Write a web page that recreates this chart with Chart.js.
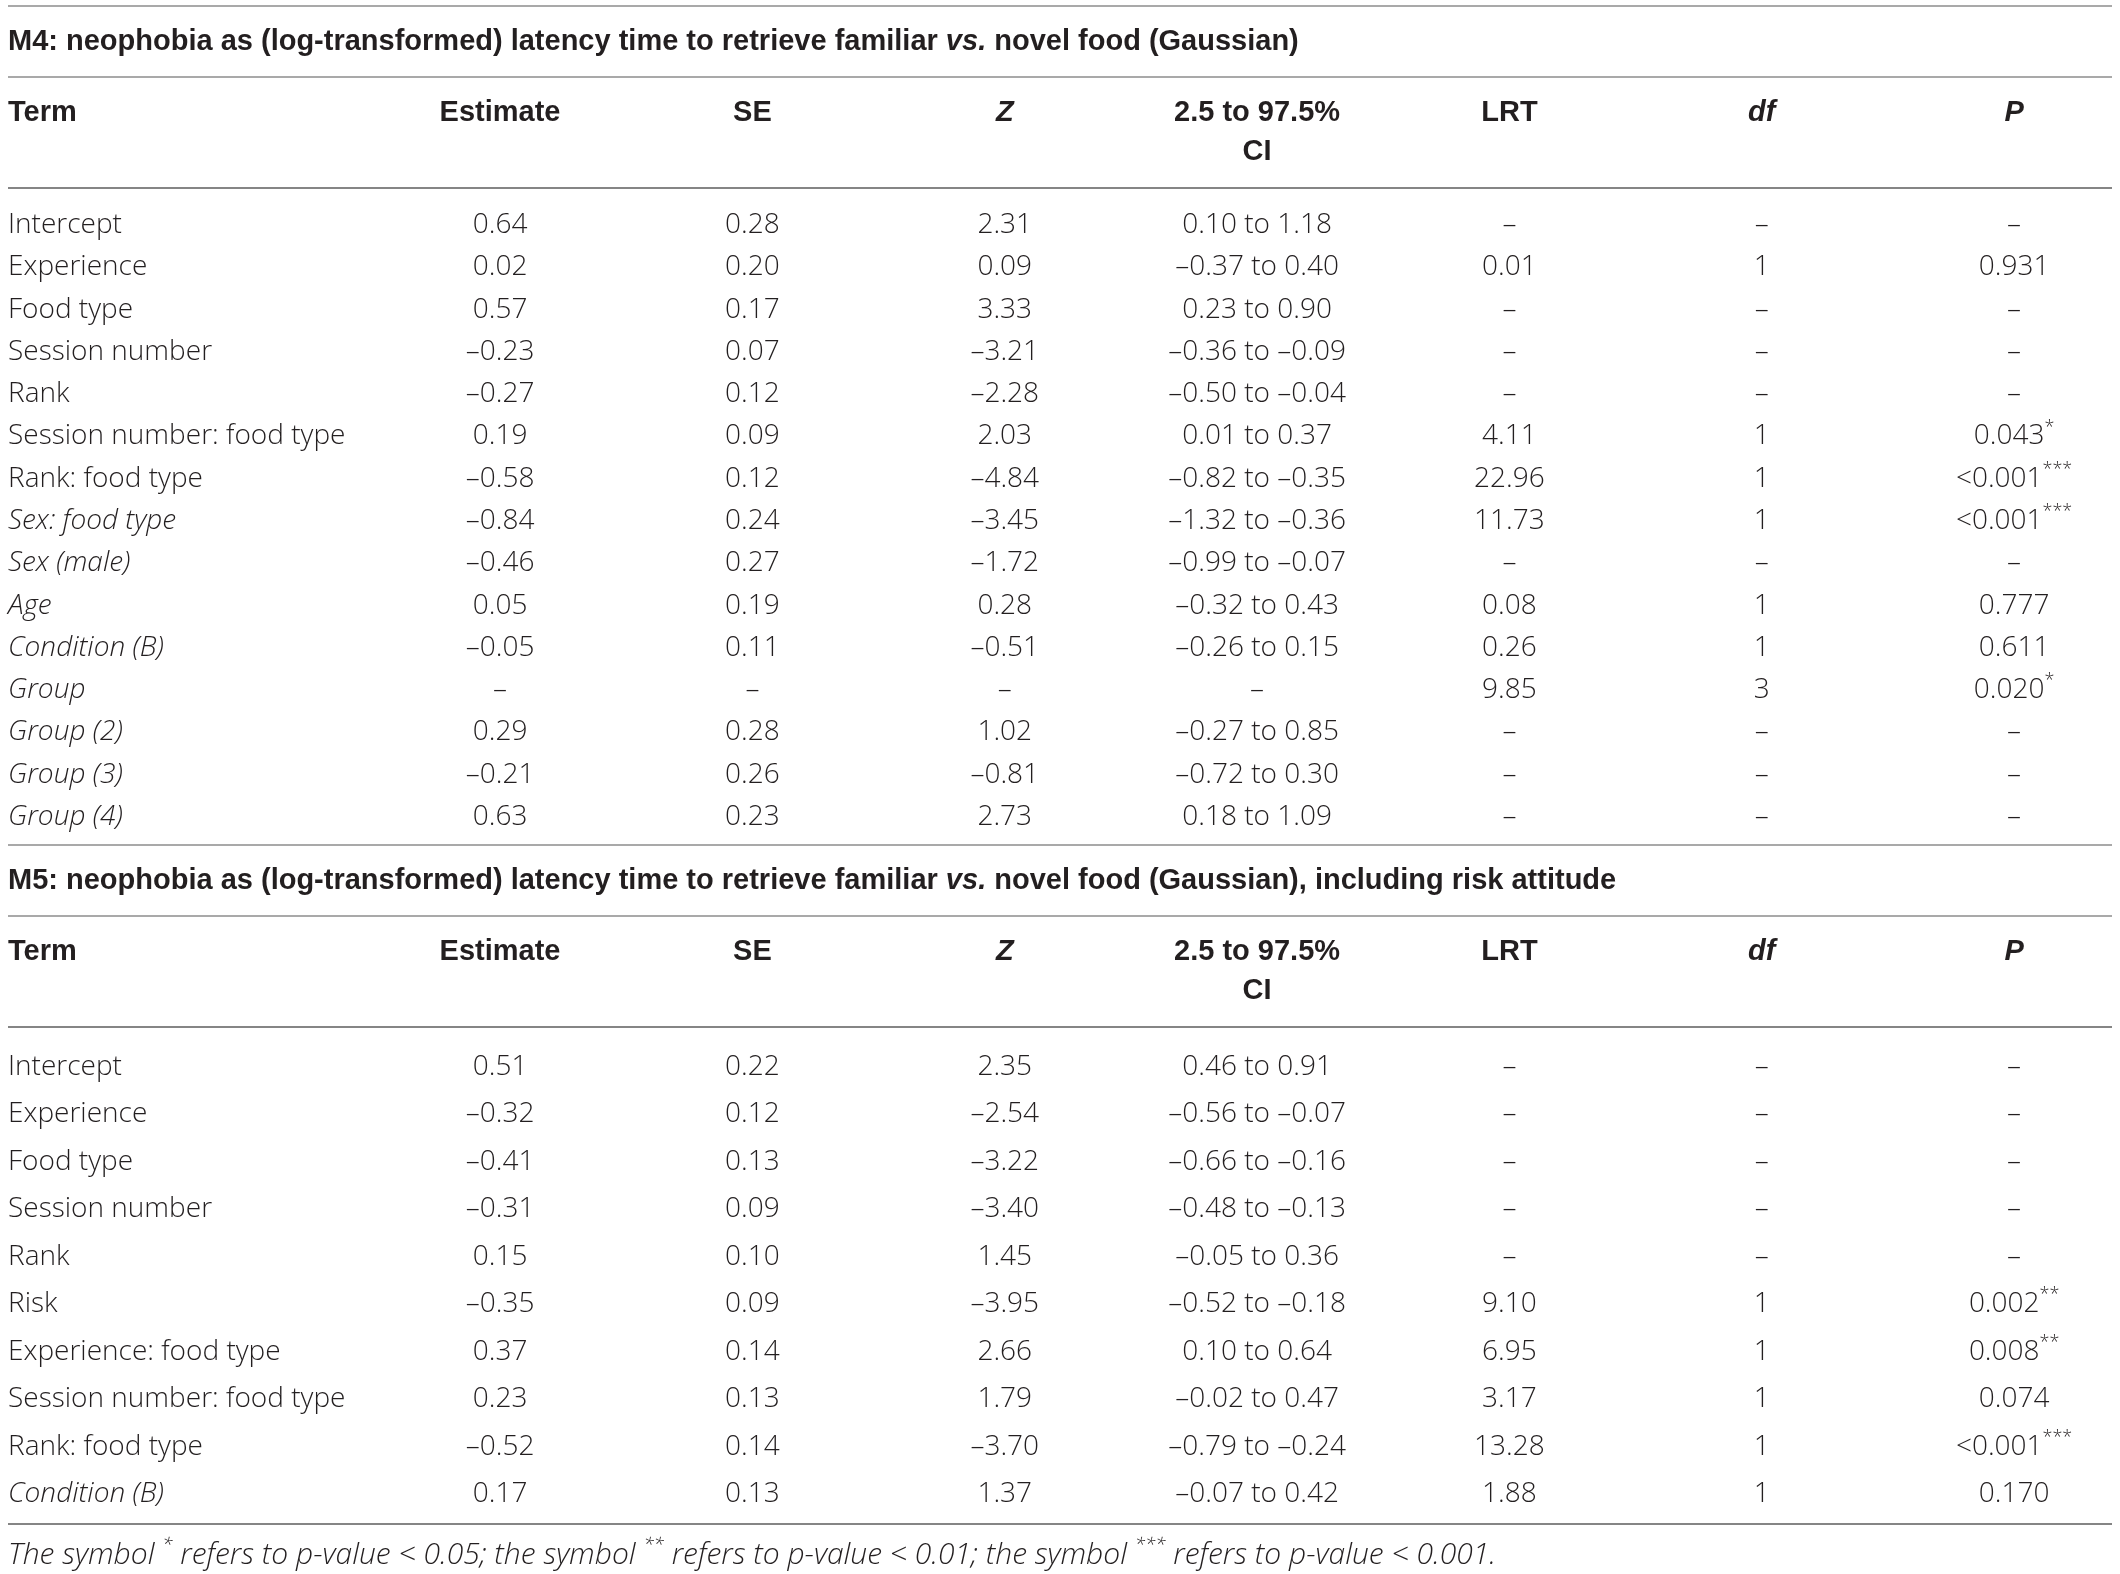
<!DOCTYPE html>
<html><head><meta charset="utf-8">
<script src="https://cdn.jsdelivr.net/npm/chart.js@4.4.1/dist/chart.umd.min.js"></script>
<style>
html,body{margin:0;padding:0;background:#fff;}
.box{position:relative;width:2120px;}
</style></head><body>
<div class="box" style="height:840px"><canvas id="c1"></canvas></div>
<div class="box" style="height:734px"><canvas id="c2"></canvas></div>
<script>
// ---------- DATA ----------
const columnHeaders = ["Term", "Estimate", "SE", "Z", "2.5 to 97.5%|CI", "LRT", "df", "P"];
const italicHeaders = ["Z", "df", "P"];

const m4Title = "M4: neophobia as (log-transformed) latency time to retrieve familiar {vs.} novel food (Gaussian)";
const m4Terms = ["Intercept", "Experience", "Food type", "Session number", "Rank", "Session number: food type",
  "Rank: food type", "Sex: food type", "Sex (male)", "Age", "Condition (B)", "Group", "Group (2)", "Group (3)", "Group (4)"];
const m4Estimate = [0.64, 0.02, 0.57, -0.23, -0.27, 0.19, -0.58, -0.84, -0.46, 0.05, -0.05, null, 0.29, -0.21, 0.63];
const m4SE = [0.28, 0.20, 0.17, 0.07, 0.12, 0.09, 0.12, 0.24, 0.27, 0.19, 0.11, null, 0.28, 0.26, 0.23];
const m4Z = [2.31, 0.09, 3.33, -3.21, -2.28, 2.03, -4.84, -3.45, -1.72, 0.28, -0.51, null, 1.02, -0.81, 2.73];
const m4CILow = [0.10, -0.37, 0.23, -0.36, -0.50, 0.01, -0.82, -1.32, -0.99, -0.32, -0.26, null, -0.27, -0.72, 0.18];
const m4CIHigh = [1.18, 0.40, 0.90, -0.09, -0.04, 0.37, -0.35, -0.36, -0.07, 0.43, 0.15, null, 0.85, 0.30, 1.09];
const m4LRT = [null, 0.01, null, null, null, 4.11, 22.96, 11.73, null, 0.08, 0.26, 9.85, null, null, null];
const m4DF = [null, 1, null, null, null, 1, 1, 1, null, 1, 1, 3, null, null, null];
const m4P = [null, "0.931", null, null, null, "0.043*", "<0.001***", "<0.001***", null, "0.777", "0.611", "0.020*", null, null, null];

const m5Title = "M5: neophobia as (log-transformed) latency time to retrieve familiar {vs.} novel food (Gaussian), including risk attitude";
const m5Terms = ["Intercept", "Experience", "Food type", "Session number", "Rank", "Risk",
  "Experience: food type", "Session number: food type", "Rank: food type", "Condition (B)"];
const m5Estimate = [0.51, -0.32, -0.41, -0.31, 0.15, -0.35, 0.37, 0.23, -0.52, 0.17];
const m5SE = [0.22, 0.12, 0.13, 0.09, 0.10, 0.09, 0.14, 0.13, 0.14, 0.13];
const m5Z = [2.35, -2.54, -3.22, -3.40, 1.45, -3.95, 2.66, 1.79, -3.70, 1.37];
const m5CILow = [0.46, -0.56, -0.66, -0.48, -0.05, -0.52, 0.10, -0.02, -0.79, -0.07];
const m5CIHigh = [0.91, -0.07, -0.16, -0.13, 0.36, -0.18, 0.64, 0.47, -0.24, 0.42];
const m5LRT = [null, null, null, null, null, 9.10, 6.95, 3.17, 13.28, 1.88];
const m5DF = [null, null, null, null, null, 1, 1, 1, 1, 1];
const m5P = [null, null, null, null, null, "0.002**", "0.008**", "0.074", "<0.001***", "0.170"];

const italicTerms = ["Sex: food type", "Sex (male)", "Age", "Condition (B)", "Group", "Group (2)", "Group (3)", "Group (4)"];
const m5ItalicTerms = ["Condition (B)"];

const footnote = "The symbol * refers to p-value < 0.05; the symbol ** refers to p-value < 0.01; the symbol *** refers to p-value < 0.001.";

// ---------- STYLE ----------
const INK = "#231f20";
const LIGHT_RULE = "#a9a9a9";
const DARK_RULE = "#858585";
const BODY_FAMILY = '"Open Sans", "Liberation Sans", sans-serif';
const BOLD_FAMILY = '"Liberation Sans", Arial, sans-serif';
const BODY = (it) => (it ? "italic " : "") + '300 28px ' + BODY_FAMILY;
const SUP = (it) => (it ? "italic " : "") + '300 18px ' + BODY_FAMILY;
const FOOT = (it) => "italic 300 30px " + BODY_FAMILY;
const FOOTSUP = (it) => "italic 300 19px " + BODY_FAMILY;
const HEAD = (it) => (it ? "italic " : "") + 'bold 29px ' + BOLD_FAMILY;
const TITLE = (it) => (it ? "italic " : "") + 'bold 29px ' + BOLD_FAMILY;

// ---------- HELPERS ----------
const dash = "\u2013";
function fmt2(v) { return v == null ? dash : (v < 0 ? dash : "") + Math.abs(v).toFixed(2); }
function fmtCI(lo, hi) { return lo == null ? dash : fmt2(lo) + " to " + fmt2(hi); }
function fmtInt(v) { return v == null ? dash : String(v); }

function starSegs(text, fontFn, supFn, italic) {
  const segs = [];
  text.split(/(\*+)/).forEach(part => {
    if (!part) return;
    if (/^\*+$/.test(part)) segs.push({ text: part, font: supFn(italic), dy: -9 });
    else segs.push({ text: part, font: fontFn(italic), dy: 0 });
  });
  return segs;
}
function braceSegs(text, fontFn) {
  const segs = [];
  text.split(/(\{[^}]*\})/).forEach(part => {
    if (!part) return;
    if (part[0] === "{") segs.push({ text: part.slice(1, -1), font: fontFn(true), dy: 0 });
    else segs.push({ text: part, font: fontFn(false), dy: 0 });
  });
  return segs;
}
function drawRich(ctx, segs, x, y, align) {
  let total = 0;
  segs.forEach(s => { ctx.font = s.font; s.w = ctx.measureText(s.text).width; total += s.w; });
  let cx = align === "center" ? x - total / 2 : x;
  ctx.textAlign = "left";
  segs.forEach(s => { ctx.font = s.font; ctx.fillText(s.text, cx, y + s.dy); cx += s.w; });
}
function rule(ctx, area, y, color) {
  ctx.save();
  ctx.strokeStyle = color; ctx.lineWidth = 2;
  ctx.beginPath(); ctx.moveTo(area.left, y); ctx.lineTo(area.right, y); ctx.stroke();
  ctx.restore();
}

function makeSection(title, terms, est, se, z, lo, hi, lrt, df, p, italics, withFootnote) {
  const rows = terms.map((t, i) => [t, fmt2(est[i]), fmt2(se[i]), fmt2(z[i]), fmtCI(lo[i], hi[i]), fmt2(lrt[i]), fmtInt(df[i]), p[i] == null ? dash : p[i]]);
  return { title, terms, rows, italics, withFootnote };
}

function tablePlugin(sec) {
  return {
    id: "tableText",
    afterDraw(chart) {
      const { ctx, chartArea: a, scales: { x, y } } = chart;
      ctx.save();
      ctx.fillStyle = INK;
      ctx.textBaseline = "middle";
      // rules
      rule(ctx, a, a.top - 196, LIGHT_RULE);
      rule(ctx, a, a.top - 125, LIGHT_RULE);
      rule(ctx, a, a.top - 14, DARK_RULE);
      rule(ctx, a, a.bottom + 8, DARK_RULE);
      // title
      drawRich(ctx, braceSegs(sec.title, TITLE), a.left, a.top - 160, "left");
      // headers
      columnHeaders.forEach((h, c) => {
        const it = italicHeaders.includes(h);
        h.split("|").forEach((ln, k) => {
          const yy = a.top - 89 + k * 39;
          const seg = [{ text: ln, font: HEAD(it), dy: 0 }];
          if (c === 0) drawRich(ctx, seg, a.left, yy, "left");
          else drawRich(ctx, seg, x.getPixelForValue(c), yy, "center");
        });
      });
      // body
      sec.rows.forEach((cells, r) => {
        const yy = y.getPixelForValue(r) + 2;
        cells.forEach((cell, c) => {
          const it = c === 0 && sec.italics.includes(cell);
          const segs = starSegs(cell, BODY, SUP, it);
          if (c === 0) drawRich(ctx, segs, a.left, yy, "left");
          else drawRich(ctx, segs, x.getPixelForValue(c), yy, "center");
        });
      });
      if (sec.withFootnote) {
        drawRich(ctx, starSegs(footnote, FOOT, FOOTSUP, true), a.left, a.bottom + 39, "left");
      }
      ctx.restore();
    }
  };
}

function makeChart(id, sec, padding) {
  return new Chart(document.getElementById(id), {
    type: "scatter",
    data: { datasets: [] },
    options: {
      responsive: true,
      maintainAspectRatio: false,
      animation: false,
      events: [],
      layout: { padding },
      plugins: { legend: { display: false }, tooltip: { enabled: false } },
      scales: {
        x: { type: "linear", min: -0.95, max: 7.388, display: false },
        y: { type: "category", labels: sec.terms, offset: true, display: false }
      }
    },
    plugins: [tablePlugin(sec)]
  });
}

const sec4 = makeSection(m4Title, m4Terms, m4Estimate, m4SE, m4Z, m4CILow, m4CIHigh, m4LRT, m4DF, m4P, italicTerms, false);
const sec5 = makeSection(m5Title, m5Terms, m5Estimate, m5SE, m5Z, m5CILow, m5CIHigh, m5LRT, m5DF, m5P, m5ItalicTerms, true);

Promise.all([
  document.fonts.load('300 28px "Open Sans"'),
  document.fonts.load('italic 300 28px "Open Sans"'),
  document.fonts.load('bold 29px "Liberation Sans"')
]).catch(() => {}).finally(() => {
  makeChart("c1", sec4, { top: 202, bottom: 4, left: 8, right: 8 });
  makeChart("c2", sec5, { top: 201, bottom: 58, left: 8, right: 8 });
});
</script>
</body></html>
